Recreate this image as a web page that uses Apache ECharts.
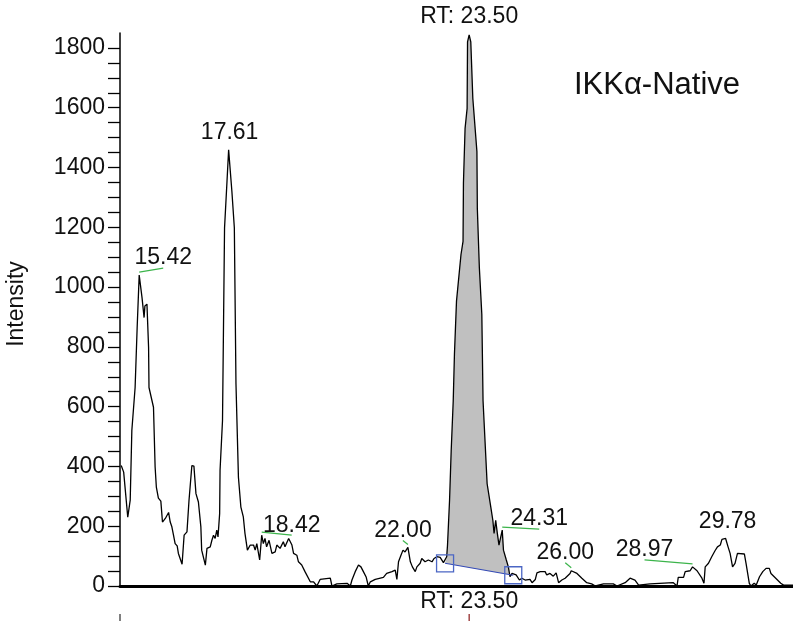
<!DOCTYPE html>
<html>
<head>
<meta charset="utf-8">
<title>IKKα-Native chromatogram</title>
<script src="https://cdn.jsdelivr.net/npm/echarts@6/dist/echarts.min.js"></script>
<style>
  html, body { margin: 0; padding: 0; background: #ffffff; }
  #chart { width: 793px; height: 621px; }
</style>
</head>
<body>
<div id="chart"></div>
<script>
// Extracted ion chromatogram: retention time (min) vs intensity
const retentionTimes = [
  14.98, 15.04, 15.14, 15.20, 15.24, 15.32, 15.37, 15.42, 15.49, 15.54, 15.56, 15.61, 15.65, 15.66,
  15.77, 15.81, 15.84, 15.89, 15.95, 15.99, 16.06, 16.14, 16.18, 16.22, 16.26, 16.30, 16.35, 16.38,
  16.47, 16.52, 16.59, 16.64, 16.71, 16.76, 16.81, 16.87, 16.93, 16.95, 17.04, 17.08, 17.16, 17.20,
  17.24, 17.28, 17.32, 17.35, 17.39, 17.40, 17.46, 17.51, 17.57, 17.61, 17.69, 17.75, 17.79, 17.85,
  17.91, 17.97, 18.01, 18.07, 18.14, 18.22, 18.26, 18.30, 18.37, 18.42, 18.46, 18.50, 18.54, 18.60,
  18.67, 18.75, 18.79, 18.87, 18.95, 18.99, 19.08, 19.16, 19.20, 19.28, 19.32, 19.40, 19.48, 19.61,
  19.69, 19.77, 19.85, 20.10, 20.14, 20.26, 20.51, 20.59, 20.63, 20.71, 20.79, 20.85, 20.91, 20.98,
  21.03, 21.08, 21.20, 21.40, 21.48, 21.61, 21.69, 21.73, 21.77, 21.83, 21.88, 21.93, 22.00, 22.06,
  22.11, 22.18, 22.22, 22.30, 22.34, 22.42, 22.50, 22.59, 22.64, 22.71, 22.79, 22.87, 22.91, 22.95,
  22.97, 23.02, 23.06, 23.11, 23.14, 23.19, 23.30, 23.35, 23.36, 23.40, 23.45, 23.46, 23.50, 23.54,
  23.59, 23.69, 23.70, 23.75, 23.81, 23.84, 23.94, 24.03, 24.08, 24.11, 24.15, 24.19, 24.23, 24.31,
  24.34, 24.41, 24.46, 24.50, 24.55, 24.58, 24.65, 24.73, 24.79, 24.87, 24.99, 25.04, 25.12, 25.16,
  25.24, 25.36, 25.40, 25.48, 25.56, 25.63, 25.69, 25.77, 25.85, 25.97, 26.00, 26.14, 26.26, 26.38,
  26.50, 26.59, 26.79, 27.03, 27.12, 27.32, 27.44, 27.56, 27.65, 27.93, 27.97, 28.50, 28.59, 28.62,
  28.75, 28.79, 28.91, 28.97, 29.08, 29.12, 29.20, 29.25, 29.28, 29.36, 29.44, 29.52, 29.58, 29.65,
  29.69, 29.78, 29.84, 29.89, 29.95, 30.01, 30.07, 30.24, 30.28, 30.36, 30.40, 30.48, 30.53, 30.61,
  30.69, 30.77, 30.85, 30.89, 30.97, 31.05, 31.13, 31.20, 31.43
];
const intensities = [
  403, 381, 230, 287, 520, 664, 864, 1040, 964, 898, 937, 943, 798, 664,
  598, 398, 331, 294, 284, 214, 226, 246, 214, 198, 170, 142, 134, 109,
  73, 170, 181, 287, 403, 401, 309, 281, 198, 120, 70, 126, 131, 153,
  170, 159, 187, 164, 242, 387, 553, 1198, 1353, 1459, 1320, 1198, 676, 364,
  264, 231, 176, 120, 137, 137, 120, 142, 87, 170, 142, 159, 131, 153,
  109, 114, 137, 126, 148, 131, 159, 137, 109, 103, 81, 70, 48, 14,
  14, 0, 22, 26, 0, 7, 9, 0, 20, 48, 70, 64, 48, 29,
  0, 14, 22, 29, 42, 48, 53, 22, 81, 103, 120, 114, 129, 81,
  64, 48, 64, 76, 92, 81, 87, 81, 92, 98, 96, 78, 76, 98,
  137, 287, 453, 620, 777, 953, 1109, 1153, 1348, 1531, 1598, 1820, 1844, 1820,
  1631, 1453, 1264, 1064, 909, 620, 342, 264, 220, 176, 220, 176, 137, 187,
  120, 87, 64, 31, 42, 36, 37, 20, 26, 20, 22, 11, 22, 44,
  48, 48, 37, 42, 33, 44, 11, 20, 26, 42, 51, 42, 26, 11,
  7, 0, 7, 7, 0, 11, 26, 20, 3, 7, 11, 11, 0, 29,
  29, 48, 51, 64, 51, 48, 26, 9, 64, 76, 98, 118, 131, 137,
  156, 159, 131, 109, 64, 76, 109, 107, 76, 9, 0, 9, 3, 31,
  48, 59, 59, 42, 31, 20, 9, 3, 3
];

// Annotated peak apexes (retention times)
const peakRTs = [15.42, 17.61, 18.42, 22.00, 24.31, 26.00, 28.97, 29.78];
// Integrated peak and its baseline limits
const markedRT = 23.50;
const integrationStart = 22.91;
const integrationEnd = 24.58;

// Axis ranges and ticks
const rtRange = [14.95, 31.43];
const intensityMax = 1850;
const intensityLabels = [0, 200, 400, 600, 800, 1000, 1200, 1400, 1600, 1800];
const intensityTicks = [0, 50, 100, 150, 200, 250, 300, 350, 400, 450, 500, 550, 600, 650, 700, 750,
  800, 850, 900, 950, 1000, 1050, 1100, 1150, 1200, 1250, 1300, 1350, 1400, 1450, 1500, 1550,
  1600, 1650, 1700, 1750, 1800];

const compoundName = 'IKKα-Native';
const intensityTitle = 'Intensity';

// ---------------------------------------------------------------------------

const FONT = '"Liberation Sans", Arial, Helvetica, sans-serif';
const TEXT_COLOR = '#111111';

function indexOfRT(t) {
  return retentionTimes.findIndex(function (v) { return Math.abs(v - t) < 1e-6; });
}
function intensityAt(t) {
  return intensities[indexOfRT(t)];
}

const trace = retentionTimes.map(function (t, i) { return [t, intensities[i]]; });
const iStart = indexOfRT(integrationStart);
const iEnd = indexOfRT(integrationEnd);

// label placement relative to each apex (pixels)
const labelPlacement = {
  '15.42': { dx: 24, dy: -17, leader: true },
  '17.61': { dx: 1, dy: -17, leader: false },
  '18.42': { dx: 30, dy: -10, leader: true },
  '22.00': { dx: -5, dy: -17, leader: true },
  '24.31': { dx: 37, dy: -11, leader: true },
  '26.00': { dx: -6, dy: -18, leader: true },
  '28.97': { dx: -48, dy: -17, leader: true },
  '29.78': { dx: 2, dy: -17, leader: false }
};

const chart = echarts.init(document.getElementById('chart'), null, { renderer: 'canvas' });

const option = {
  animation: false,
  backgroundColor: '#ffffff',
  grid: {
    left: 120, right: 0, top: 33, bottom: 35,
    containLabel: false,
    outerBoundsMode: 'none'
  },
  xAxis: {
    type: 'value',
    min: rtRange[0],
    max: rtRange[1],
    axisLine: { show: true, lineStyle: { color: '#000', width: 3 } },
    axisTick: { show: false },
    axisLabel: { show: false },
    splitLine: { show: false }
  },
  yAxis: {
    type: 'value',
    min: 0,
    max: intensityMax,
    axisLine: { show: true, lineStyle: { color: '#000', width: 1.5 } },
    axisTick: {
      show: true,
      customValues: intensityTicks,
      length: 12,
      lineStyle: { color: '#000', width: 1.3 }
    },
    axisLabel: {
      show: true,
      customValues: intensityLabels,
      formatter: function (v) { return String(v); },
      margin: 15,
      fontFamily: FONT,
      fontSize: 23,
      color: TEXT_COLOR
    },
    splitLine: { show: false }
  },
  graphic: [
    {
      type: 'text',
      x: 657,
      y: 85,
      style: {
        text: compoundName,
        font: '31px ' + FONT,
        fill: TEXT_COLOR,
        align: 'center',
        verticalAlign: 'middle'
      }
    },
    {
      type: 'text',
      x: 17,
      y: 304,
      rotation: Math.PI / 2,
      style: {
        text: intensityTitle,
        font: '23px ' + FONT,
        fill: TEXT_COLOR,
        align: 'center',
        verticalAlign: 'middle'
      }
    }
  ],
  series: [
    {
      // shaded integrated area between trace and baseline
      name: 'area',
      type: 'custom',
      z: 1,
      silent: true,
      data: [[markedRT, 0]],
      renderItem: function (params, api) {
        const pts = [];
        for (let i = iStart; i <= iEnd; i++) {
          pts.push(api.coord([retentionTimes[i], intensities[i]]));
        }
        return {
          type: 'polygon',
          shape: { points: pts },
          style: { fill: '#c0c0c0', stroke: null }
        };
      }
    },
    {
      name: 'trace',
      type: 'line',
      z: 3,
      data: trace,
      showSymbol: false,
      symbol: 'none',
      smooth: false,
      lineStyle: { color: '#000', width: 1.3 },
      silent: true
    },
    {
      // integration baseline with its end markers
      name: 'baseline',
      type: 'line',
      z: 4,
      data: [
        [integrationStart, intensityAt(integrationStart)],
        [integrationEnd, intensityAt(integrationEnd)]
      ],
      symbol: 'rect',
      symbolSize: 17,
      showSymbol: true,
      lineStyle: { color: '#3349b5', width: 1.2 },
      itemStyle: { color: 'rgba(0,0,0,0)', borderColor: '#4b66c4', borderWidth: 1.3 },
      silent: true
    },
    {
      // peak retention-time labels
      name: 'peaks',
      type: 'custom',
      z: 5,
      silent: true,
      data: peakRTs.map(function (t) { return [t, intensityAt(t)]; }),
      renderItem: function (params, api) {
        const rt = api.value(0);
        const p = api.coord([rt, api.value(1)]);
        const place = labelPlacement[rt.toFixed(2)];
        const cx = p[0] + place.dx;
        const cy = p[1] + place.dy;
        const children = [];
        if (place.leader) {
          children.push({
            type: 'line',
            shape: { x1: p[0], y1: p[1] - 3, x2: cx, y2: cy + 10 },
            style: { stroke: '#3cb44b', lineWidth: 1.2 }
          });
        }
        children.push({
          type: 'text',
          x: cx,
          y: cy,
          style: {
            text: rt.toFixed(2),
            font: '23px ' + FONT,
            fill: TEXT_COLOR,
            align: 'center',
            verticalAlign: 'middle'
          }
        });
        return { type: 'group', children: children };
      }
    },
    {
      // retention-time marker for the integrated peak
      name: 'marker',
      type: 'custom',
      z: 5,
      silent: true,
      data: [[markedRT, intensityAt(markedRT)]],
      renderItem: function (params, api) {
        const rt = api.value(0);
        const top = api.coord([rt, api.value(1)]);
        const base = api.coord([rt, 0]);
        const origin = api.coord([rtRange[0], 0]);
        const label = 'RT: ' + rt.toFixed(2);
        return {
          type: 'group',
          children: [
            {
              type: 'text', x: top[0], y: top[1] - 18,
              style: { text: label, font: '23px ' + FONT, fill: TEXT_COLOR, align: 'center', verticalAlign: 'middle' }
            },
            {
              type: 'text', x: base[0], y: base[1] + 16,
              style: { text: label, font: '23px ' + FONT, fill: TEXT_COLOR, align: 'center', verticalAlign: 'middle' }
            },
            {
              type: 'line',
              shape: { x1: base[0], y1: base[1] + 28, x2: base[0], y2: base[1] + 36 },
              style: { stroke: '#8b1a1a', lineWidth: 1.2 }
            },
            {
              type: 'line',
              shape: { x1: origin[0], y1: origin[1] + 28, x2: origin[0], y2: origin[1] + 36 },
              style: { stroke: '#000', lineWidth: 1 }
            }
          ]
        };
      }
    }
  ]
};

chart.setOption(option);
</script>
</body>
</html>
